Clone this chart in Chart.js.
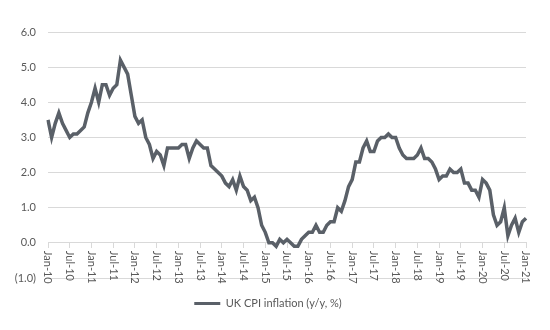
<!DOCTYPE html>
<html>
<head>
<meta charset="utf-8">
<script src="https://cdn.jsdelivr.net/npm/chart.js@4/dist/chart.umd.min.js"></script>
<style>
  html, body { margin: 0; padding: 0; background: #fff; }
  #wrap { width: 550px; height: 330px; position: relative; }
</style>
</head>
<body>
<div id="wrap"><canvas id="cpiChart"></canvas></div>
<script>
// CPI annuel (y/y, %) - un tableau par année
const cpi2010 = [3.5, 3.0, 3.4, 3.7, 3.4, 3.2, 3.0, 3.1, 3.1, 3.2, 3.3, 3.7];
const cpi2011 = [4.0, 4.4, 4.0, 4.5, 4.5, 4.2, 4.4, 4.5, 5.2, 5.0, 4.8, 4.2];
const cpi2012 = [3.6, 3.4, 3.5, 3.0, 2.8, 2.4, 2.6, 2.5, 2.2, 2.7, 2.7, 2.7];
const cpi2013 = [2.7, 2.8, 2.8, 2.4, 2.7, 2.9, 2.8, 2.7, 2.7, 2.2, 2.1, 2.0];
const cpi2014 = [1.9, 1.7, 1.6, 1.8, 1.5, 1.9, 1.6, 1.5, 1.2, 1.3, 1.0, 0.5];
const cpi2015 = [0.3, 0.0, 0.0, -0.1, 0.1, 0.0, 0.1, 0.0, -0.1, -0.1, 0.1, 0.2];
const cpi2016 = [0.3, 0.3, 0.5, 0.3, 0.3, 0.5, 0.6, 0.6, 1.0, 0.9, 1.2, 1.6];
const cpi2017 = [1.8, 2.3, 2.3, 2.7, 2.9, 2.6, 2.6, 2.9, 3.0, 3.0, 3.1, 3.0];
const cpi2018 = [3.0, 2.7, 2.5, 2.4, 2.4, 2.4, 2.5, 2.7, 2.4, 2.4, 2.3, 2.1];
const cpi2019 = [1.8, 1.9, 1.9, 2.1, 2.0, 2.0, 2.1, 1.7, 1.7, 1.5, 1.5, 1.3];
const cpi2020 = [1.8, 1.7, 1.5, 0.8, 0.5, 0.6, 1.0, 0.2, 0.5, 0.7, 0.3, 0.6];
const cpi2021 = [0.7];

const years = ['10', '11', '12', '13', '14', '15', '16', '17', '18', '19', '20', '21'];
const monthNames = ['Jan', 'Feb', 'Mar', 'Apr', 'May', 'Jun', 'Jul', 'Aug', 'Sep', 'Oct', 'Nov', 'Dec'];

// étiquettes affichées sous l'axe (tous les 6 mois)
const tickLabels = [
  'Jan-10', 'Jul-10', 'Jan-11', 'Jul-11', 'Jan-12', 'Jul-12', 'Jan-13', 'Jul-13',
  'Jan-14', 'Jul-14', 'Jan-15', 'Jul-15', 'Jan-16', 'Jul-16', 'Jan-17', 'Jul-17',
  'Jan-18', 'Jul-18', 'Jan-19', 'Jul-19', 'Jan-20', 'Jul-20', 'Jan-21'
];
const yTicks = [-1, 0, 1, 2, 3, 4, 5, 6];

const cpiValues = [].concat(cpi2010, cpi2011, cpi2012, cpi2013, cpi2014, cpi2015,
  cpi2016, cpi2017, cpi2018, cpi2019, cpi2020, cpi2021);

// catégories mensuelles Jan-10 ... Jan-21
const categories = [];
years.forEach(y => monthNames.forEach(m => categories.push(m + '-' + y)));
categories.length = cpiValues.length;

const GREY = '#5a6068';
const TEXT = '#595959';
const GRID = '#d9d9d9';
const FONT = 'Lato, "Liberation Sans", sans-serif';

// étiquettes verticales (lecture de haut en bas) sous la ligne du zéro
const verticalLabels = {
  id: 'verticalLabels',
  afterDraw(chart) {
    const ctx = chart.ctx;
    const xs = chart.scales.x;
    const ys = chart.scales.y;
    const y0 = ys.getPixelForValue(0) + 8;
    ctx.save();
    ctx.font = '11px ' + FONT;
    ctx.fillStyle = TEXT;
    ctx.textAlign = 'left';
    ctx.textBaseline = 'middle';
    tickLabels.forEach(lbl => {
      const x = xs.getPixelForValue(categories.indexOf(lbl));
      ctx.save();
      ctx.translate(x, y0);
      ctx.rotate(Math.PI / 2);
      ctx.fillText(lbl, 0, 0);
      ctx.restore();
    });
    ctx.restore();
  }
};

new Chart(document.getElementById('cpiChart'), {
  type: 'line',
  data: {
    labels: categories,
    datasets: [{
      label: 'UK CPI inflation (y/y, %)',
      data: cpiValues,
      borderColor: GREY,
      backgroundColor: GREY,
      borderWidth: 3.5,
      pointRadius: 0,
      tension: 0,
      fill: false
    }]
  },
  options: {
    responsive: true,
    maintainAspectRatio: false,
    animation: false,
    layout: { padding: { left: 10, right: 24, top: 32, bottom: 11 } },
    plugins: {
      tooltip: { enabled: false },
      legend: {
        position: 'bottom',
        labels: {
          color: TEXT,
          font: { family: FONT, size: 11 },
          boxWidth: 26,
          boxHeight: 3,
          padding: 20,
          generateLabels(chart) {
            return chart.data.datasets.map((ds, i) => ({
              text: ds.label,
              fillStyle: ds.borderColor,
              strokeStyle: ds.borderColor,
              lineWidth: 0,
              fontColor: TEXT,
              datasetIndex: i
            }));
          }
        }
      }
    },
    scales: {
      // l'axe des x est posé sur la ligne du zéro
      x: {
        type: 'category',
        position: { y: 0 },
        offset: false,
        ticks: { display: false },
        grid: {
          offset: false,
          drawOnChartArea: false,
          tickLength: 5,
          tickColor: ctx => (ctx.index % 6 === 0 ? GRID : 'rgba(0,0,0,0)')
        },
        border: { display: true, color: GRID, width: 1 }
      },
      y: {
        min: -1,
        max: 6,
        afterBuildTicks: s => { s.ticks = yTicks.map(v => ({ value: v })); },
        ticks: {
          color: TEXT,
          font: { family: FONT, size: 11 },
          padding: 12,
          callback: v => (v < 0 ? '(' + Math.abs(v).toFixed(1) + ')' : v.toFixed(1))
        },
        grid: { color: GRID, drawTicks: false, lineWidth: 1 },
        border: { display: false },
        afterFit: s => { s.width = 38; }
      }
    }
  },
  plugins: [verticalLabels]
});
</script>
</body>
</html>
